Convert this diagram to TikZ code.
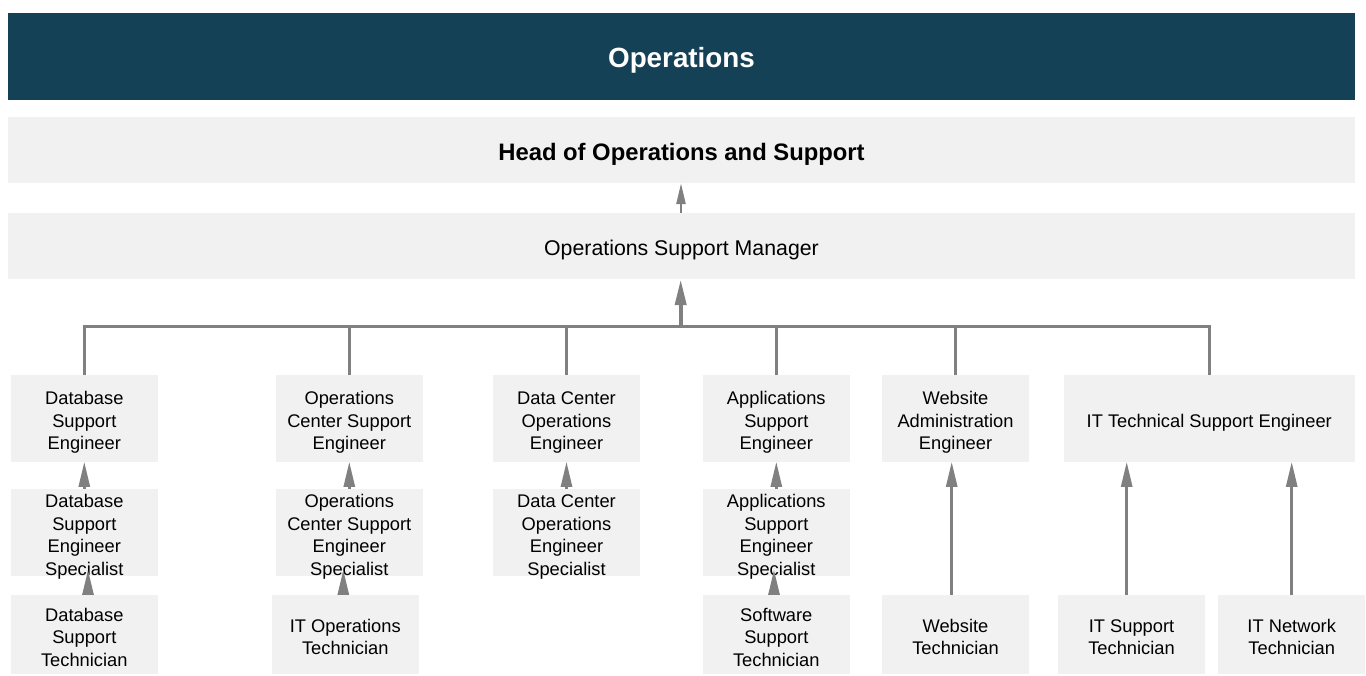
\documentclass[tikz,border=0pt]{standalone}
\usepackage{fontspec}
\setmainfont{Liberation Sans}
\usetikzlibrary{arrows.meta}
\definecolor{barblue}{HTML}{154157}
\definecolor{boxgray}{HTML}{F1F1F1}
\definecolor{linegray}{HTML}{808080}
% lower the ink of a node text; report a slightly smaller size so boxes keep their height
\newcommand\tx[2][4.5pt]{\raisebox{-#1}[\dimexpr\height-2pt\relax][\dimexpr\depth-2pt\relax]{\begin{tabular}{@{}c@{}}#2\end{tabular}}}
\tikzset{
  box/.style={fill=boxgray, inner sep=0pt, align=center, minimum width=146.7pt, minimum height=86.7pt,
    font=\fontsize{18.3}{22.5}\selectfont},
  techbox/.style={box, minimum height=79.3pt},
  wide/.style={fill=boxgray, inner sep=0pt, minimum width=1347pt, minimum height=66pt},
  tline/.style={draw=linegray, line width=3pt},
  arr/.style={draw=linegray, line width=2.7pt, -{Triangle[length=25pt,width=11pt]}},
}
\begin{document}
\begin{tikzpicture}[x=1pt,y=-1pt]
\useasboundingbox (0,0) rectangle (1366,675);
% top bars
\node[fill=barblue, inner sep=0pt, minimum width=1347pt, minimum height=87pt,
  text=white, font=\fontsize{27.8}{32}\selectfont\bfseries] (title) at (681.5,56.5) {\tx[5pt]{Operations}};
\node[wide, font=\fontsize{23.8}{28}\selectfont\bfseries] (head) at (681.5,150) {\tx[5pt]{Head of Operations and Support}};
\node[wide, font=\fontsize{21.3}{25}\selectfont] (mgr) at (681.5,246) {\tx[4pt]{Operations Support Manager}};
% lower nodes
\node[box] (dbe) at (84.3,418.3) {\tx{Database\\Support\\Engineer}};
\node[box] (dbs) at (84.3,532.3) {\tx{Database\\Support\\Engineer\\Specialist}};
\node[techbox] (dbt) at (84.3,634.7) {\tx{Database\\Support\\Technician}};
\node[box] (oce) at (349.3,418.3) {\tx{Operations\\Center Support\\Engineer}};
\node[box] (ocs) at (349.3,532.3) {\tx{Operations\\Center Support\\Engineer\\Specialist}};
\node[techbox] (itot) at (345.3,634.7) {\tx{IT Operations\\Technician}};
\node[box] (dce) at (566.5,418.3) {\tx{Data Center\\Operations\\Engineer}};
\node[box] (dcs) at (566.5,532.3) {\tx{Data Center\\Operations\\Engineer\\Specialist}};
\node[box] (ape) at (776.3,418.3) {\tx{Applications\\Support\\Engineer}};
\node[box] (aps) at (776.3,532.3) {\tx{Applications\\Support\\Engineer\\Specialist}};
\node[techbox] (swt) at (776.3,634.7) {\tx{Software\\Support\\Technician}};
\node[box] (wae) at (955.5,418.3) {\tx{Website\\Administration\\Engineer}};
\node[techbox] (wt) at (955.5,634.7) {\tx{Website\\Technician}};
\node[box, minimum width=290.7pt] (itse) at (1209.3,418.3) {\tx{IT Technical Support Engineer}};
\node[techbox] (itst) at (1131.5,634.7) {\tx{IT Support\\Technician}};
\node[techbox] (itnt) at (1291.7,634.7) {\tx{IT Network\\Technician}};
% tree bar
\coordinate (bar) at (0,326.7);
\draw[tline] (dbe.north) -- (dbe.north |- bar) -- (itse.north |- bar) -- (itse.north);
\draw[tline] (oce.north) -- (oce.north |- bar);
\draw[tline] (dce.north) -- (dce.north |- bar);
\draw[tline] (ape.north) -- (ape.north |- bar);
\draw[tline] (wae.north) -- (wae.north |- bar);
\draw[draw=linegray, line width=4pt, -{Triangle[length=26pt,width=11pt]}] ([xshift=-0.8pt]mgr.south |- bar) -- ([xshift=-0.8pt]mgr.south);
\draw[draw=linegray, line width=2.5pt, -{Triangle[length=21pt,width=9pt]}] ([xshift=-0.5pt]mgr.north) -- ([xshift=-0.5pt]head.south);
% reporting arrows
\draw[arr] (dbs.north) -- (dbe.south);
\draw[arr, shorten >=-6pt] ([xshift=3.7pt]dbt.north) -- ([xshift=3.7pt]dbs.south);
\draw[arr] (ocs.north) -- (oce.south);
\draw[arr, shorten >=-6pt] ([xshift=-2pt]itot.north) -- ([xshift=-6pt]ocs.south);
\draw[arr] (dcs.north) -- (dce.south);
\draw[arr] (aps.north) -- (ape.south);
\draw[arr, shorten >=-6pt] ([xshift=-2.3pt]swt.north) -- ([xshift=-2.3pt]aps.south);
\draw[arr] ([xshift=-3.8pt]wt.north) -- ([xshift=-3.8pt]wae.south);
\draw[arr] ([xshift=-4.8pt]itst.north) -- ([xshift=-4.8pt]itst.north |- itse.south);
\draw[arr] (itnt.north) -- (itnt.north |- itse.south);
\end{tikzpicture}
\end{document}
